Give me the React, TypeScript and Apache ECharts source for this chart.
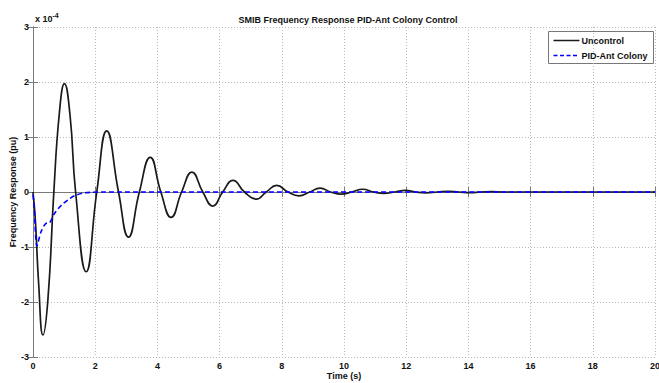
import React, { useEffect, useRef } from "react";
import * as echarts from "echarts";

const uncontrolT = [0, 0.08, 0.18, 0.32, 0.48, 0.67, 0.85, 1.01, 1.19, 1.37, 1.71, 2.05, 2.37, 2.75, 3.07, 3.42, 3.77, 4.11, 4.44, 4.78, 5.11, 5.46, 5.78, 6.1, 6.43, 6.8, 7.18, 7.5, 7.84, 8.2, 8.55, 8.9, 9.23, 9.57, 9.91, 10.25, 10.6, 10.95, 11.28, 11.63, 11.98, 12.3, 12.64, 13.0, 13.35, 13.7, 14.05, 14.4, 14.75, 15.1, 20];
const uncontrolY = [0, -0.55, -1.65, -2.6, -1.95, 0, 1.45, 1.97, 1.4, 0, -1.45, 0, 1.11, 0, -0.82, 0, 0.63, 0, -0.46, 0, 0.36, 0, -0.255, 0, 0.21, 0, -0.13, 0, 0.12, 0, -0.07, 0, 0.07, 0, -0.04, 0, 0.05, 0, -0.025, 0, 0.03, 0, -0.015, 0, 0.012, 0, -0.01, 0, 0.006, 0, 0];

const pidT = [0, 0.03, 0.13, 0.26, 0.42, 0.53, 0.69, 0.91, 1.12, 1.33, 1.6, 1.9, 2.2, 20];
const pidY = [-0.05, -0.2, -0.98, -0.72, -0.57, -0.56, -0.39, -0.24, -0.145, -0.07, -0.02, -0.005, 0, 0];

const xTicks = [0, 2, 4, 6, 8, 10, 12, 14, 16, 18, 20];
const yTicks = [-3, -2, -1, 0, 1, 2, 3];
const legendNames = ["Uncontrol", "PID-Ant Colony"];

const font = "'Liberation Sans', Arial, sans-serif";

export default function App() {
  const ref = useRef<HTMLDivElement>(null);
  useEffect(() => {
    if (!ref.current) return;
    const chart = echarts.init(ref.current, null, { renderer: "svg" });
    const splitLine = { show: true, lineStyle: { color: "#b8b8b8", type: [1, 2] as any, width: 1 } };
    const axisLine = { show: true, lineStyle: { color: "#7a7a7a", width: 1 } };
    const axisTick = { show: true, inside: true, length: 5, lineStyle: { color: "#7a7a7a" } };
    const lblStyle = { fontFamily: font, fontSize: 9, fontWeight: "bold", fill: "#111" };
    chart.setOption({
      animation: false,
      backgroundColor: "#ffffff",
      title: {
        text: "SMIB Frequency Response PID-Ant Colony Control",
        left: 343,
        top: 10,
        textAlign: "center",
        textStyle: { fontFamily: font, fontSize: 9, fontWeight: "bold", color: "#111" },
      },
      grid: { left: 33, top: 27, right: 4, bottom: 26, containLabel: false, outerBoundsMode: "none" },
      xAxis: [
        {
          type: "value",
          min: 0,
          max: 20,
          interval: 2,
          name: "Time (s)",
          nameLocation: "middle",
          nameGap: 14,
          nameMoveOverlap: false,
          nameTextStyle: { fontFamily: font, fontSize: 9, fontWeight: "bold", color: "#111" },
          axisLine,
          axisTick,
          splitLine,
          axisLabel: {
            fontFamily: font,
            fontSize: 9,
            fontWeight: "bold",
            color: "#111",
            margin: 4,
            formatter: (v: number) => (xTicks.includes(v) ? String(v) : ""),
          },
        },
        {
          type: "value",
          min: 0,
          max: 20,
          interval: 2,
          position: "top",
          axisLine,
          axisTick,
          splitLine: { show: false },
          axisLabel: { show: false },
        },
      ],
      yAxis: [
        {
          type: "value",
          min: -3,
          max: 3,
          interval: 1,
          name: "Frequency Response (pu)",
          nameLocation: "middle",
          nameGap: 16,
          nameMoveOverlap: false,
          nameTextStyle: { fontFamily: font, fontSize: 9, fontWeight: "bold", color: "#111" },
          axisLine,
          axisTick,
          splitLine,
          axisLabel: {
            fontFamily: font,
            fontSize: 9,
            fontWeight: "bold",
            color: "#111",
            margin: 4,
            formatter: (v: number) => (yTicks.includes(v) ? String(v) : ""),
          },
        },
        {
          type: "value",
          min: -3,
          max: 3,
          interval: 1,
          position: "right",
          axisLine,
          axisTick,
          splitLine: { show: false },
          axisLabel: { show: false },
        },
      ],
      graphic: [
        {
          type: "text",
          left: 35,
          top: 12,
          style: {
            text: "x 10{s|-4}",
            rich: { s: { fontSize: 7, fontFamily: font, fontWeight: "bold", verticalAlign: "top", padding: [0, 0, 6, 0] } },
            ...lblStyle,
          },
        } as any,
        {
          type: "group",
          left: 548,
          top: 31,
          z: 100,
          children: [
            {
              type: "rect",
              shape: { x: 0, y: 0, width: 105, height: 32 },
              style: { fill: "#fff", stroke: "#777", lineWidth: 1 },
            },
            {
              type: "line",
              shape: { x1: 5, y1: 9, x2: 31, y2: 9 },
              style: { stroke: "#1a1a1a", lineWidth: 1.5 },
            },
            {
              type: "text",
              x: 33,
              y: 9,
              style: { text: legendNames[0], ...lblStyle, verticalAlign: "middle" },
            },
            {
              type: "line",
              shape: { x1: 5, y1: 24, x2: 31, y2: 24 },
              style: { stroke: "#0000ff", lineWidth: 1.5, lineDash: [4, 2.5] },
            },
            {
              type: "text",
              x: 33,
              y: 24,
              style: { text: legendNames[1], ...lblStyle, verticalAlign: "middle" },
            },
          ],
        } as any,
      ],
      series: [
        {
          name: legendNames[0],
          type: "line",
          data: uncontrolT.map((t, i) => [t, uncontrolY[i]]),
          smooth: 0.5,
          symbol: "none",
          lineStyle: { color: "#1a1a1a", width: 1.7 },
          itemStyle: { color: "#1a1a1a" },
          z: 2,
        },
        {
          name: legendNames[1],
          type: "line",
          data: pidT.map((t, i) => [t, pidY[i]]),
          smooth: 0.3,
          symbol: "none",
          lineStyle: { color: "#0000ff", width: 1.6, type: [5, 3] },
          itemStyle: { color: "#0000ff" },
          z: 3,
        },
      ],
    });
    return () => chart.dispose();
  }, []);
  return (
    <div
      ref={ref}
      style={{ position: "fixed", left: 0, top: 0, width: 659, height: 383, background: "#fff" }}
    />
  );
}
